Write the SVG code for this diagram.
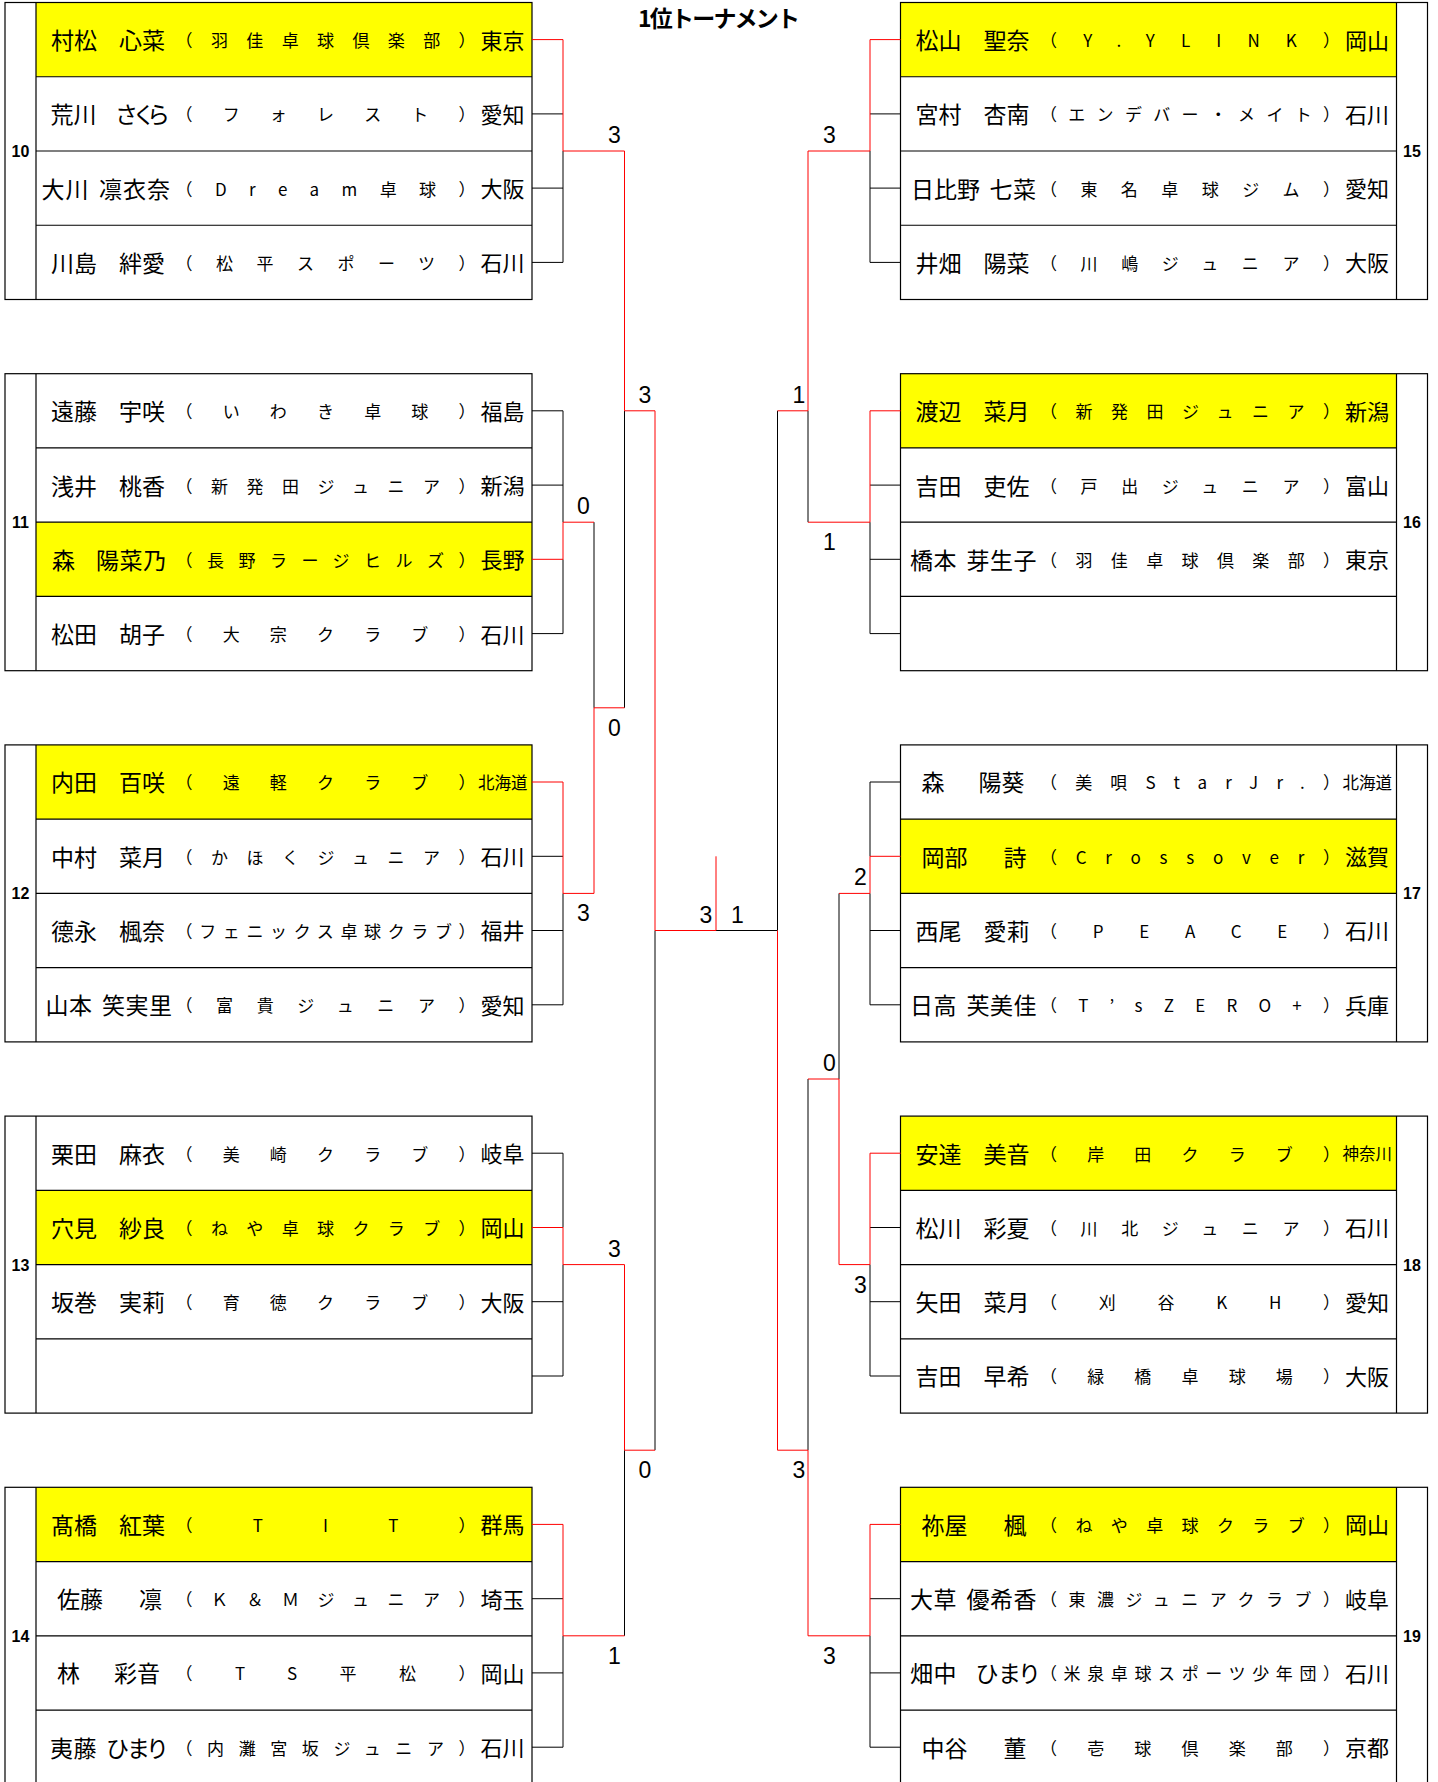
<svg xmlns="http://www.w3.org/2000/svg" width="1438" height="1782" viewBox="0 0 1438 1782">
<style>
text{font-family:"Noto Sans CJK JP","Noto Sans CJK SC",sans-serif;fill:#000}
.bx{fill:none;stroke:#000;stroke-width:1.2}
.yl{fill:#ffff00;stroke:none}
.nm{font-size:23px}
.cl{font-size:17px}
.pf{font-size:22px;text-anchor:end}
.pf3{font-size:16.5px;text-anchor:end}
.num{font-family:"Liberation Sans",Arial,sans-serif;font-weight:bold;font-size:16px;text-anchor:middle}
.sc{font-family:"Liberation Sans",Arial,sans-serif;font-size:23px;text-anchor:middle}
.r{fill:none;stroke:#ff0000;stroke-width:1}
.k{fill:none;stroke:#000;stroke-width:1}
.ttl{font-size:23px;font-weight:bold}
</style>
<rect width="1438" height="1782" fill="#fff"/>
<text id="title" class="ttl" x="638" y="26.5" textLength="162">1位トーナメント</text>

<!-- LEFT BLOCKS -->
<g id="block-10" transform="translate(36,2.5)">
<rect class="yl" x="0" y="0" width="496" height="74.25"/>
<rect class="bx" x="-31" y="0" width="527" height="297"/>
<path class="bx" d="M0 0V297M0 74.25H496M0 148.5H496M0 222.75H496"/>
<text class="num" x="-15.5" y="154.5">10</text>
<g id="p10-1"><text class="nm" x="15 38 61 83 106" y="46.6">村松　心菜</text><text class="cl" x="139.5" y="44.6" textLength="300">（羽佳卓球倶楽部）</text><text class="pf" x="488.5" y="46.1">東京</text></g>
<g id="p10-2"><text class="nm" x="14.5 37.5 60.5 79 96.5 111" y="120.9">荒川　さくら</text><text class="cl" x="139.5" y="118.9" textLength="300">（フォレスト）</text><text class="pf" x="488.5" y="120.4">愛知</text></g>
<g id="p10-3"><text class="nm" x="5.5 29.5 53 63 87 111" y="195.1">大川 凛衣奈</text><text class="cl" x="139.5" y="193.1" textLength="300">（Dream卓球）</text><text class="pf" x="488.5" y="194.6">大阪</text></g>
<g id="p10-4"><text class="nm" x="15 38 61 83 106" y="269.4">川島　絆愛</text><text class="cl" x="139.5" y="267.4" textLength="300">（松平スポーツ）</text><text class="pf" x="488.5" y="268.9">石川</text></g>
</g>

<g id="block-11" transform="translate(36,373.7)">
<rect class="yl" x="0" y="148.5" width="496" height="74.25"/>
<rect class="bx" x="-31" y="0" width="527" height="297"/>
<path class="bx" d="M0 0V297M0 74.25H496M0 148.5H496M0 222.75H496"/>
<text class="num" x="-15.5" y="154.5">11</text>
<g id="p11-1"><text class="nm" x="15 38 61 83 106" y="46.6">遠藤　宇咲</text><text class="cl" x="139.5" y="44.6" textLength="300">（いわき卓球）</text><text class="pf" x="488.5" y="46.1">福島</text></g>
<g id="p11-2"><text class="nm" x="15 38 61 83 106" y="120.9">浅井　桃香</text><text class="cl" x="139.5" y="118.9" textLength="300">（新発田ジュニア）</text><text class="pf" x="488.5" y="120.4">新潟</text></g>
<g id="p11-3"><text class="nm" x="16 38 60 83.5 107" y="195.1">森　陽菜乃</text><text class="cl" x="139.5" y="193.1" textLength="300">（長野ラージヒルズ）</text><text class="pf" x="488.5" y="194.6">長野</text></g>
<g id="p11-4"><text class="nm" x="15 38 61 83 106" y="269.4">松田　胡子</text><text class="cl" x="139.5" y="267.4" textLength="300">（大宗クラブ）</text><text class="pf" x="488.5" y="268.9">石川</text></g>
</g>

<g id="block-12" transform="translate(36,744.9)">
<rect class="yl" x="0" y="0" width="496" height="74.25"/>
<rect class="bx" x="-31" y="0" width="527" height="297"/>
<path class="bx" d="M0 0V297M0 74.25H496M0 148.5H496M0 222.75H496"/>
<text class="num" x="-15.5" y="154.5">12</text>
<g id="p12-1"><text class="nm" x="15 38 61 83 106" y="46.6">内田　百咲</text><text class="cl" x="139.5" y="44.6" textLength="300">（遠軽クラブ）</text><text class="pf3" x="491.5" y="44">北海道</text></g>
<g id="p12-2"><text class="nm" x="15 38 61 83 106" y="120.9">中村　菜月</text><text class="cl" x="139.5" y="118.9" textLength="300">（かほくジュニア）</text><text class="pf" x="488.5" y="120.4">石川</text></g>
<g id="p12-3"><text class="nm" x="15 38 61 83 106" y="195.1">德永　楓奈</text><text class="cl" x="139.5" y="193.1" textLength="300">（フェニックス卓球クラブ）</text><text class="pf" x="488.5" y="194.6">福井</text></g>
<g id="p12-4"><text class="nm" x="9.5 33 56.5 66 89.5 113" y="269.4">山本 笑実里</text><text class="cl" x="139.5" y="267.4" textLength="300">（富貴ジュニア）</text><text class="pf" x="488.5" y="268.9">愛知</text></g>
</g>

<g id="block-13" transform="translate(36,1116.1)">
<rect class="yl" x="0" y="74.25" width="496" height="74.25"/>
<rect class="bx" x="-31" y="0" width="527" height="297"/>
<path class="bx" d="M0 0V297M0 74.25H496M0 148.5H496M0 222.75H496"/>
<text class="num" x="-15.5" y="154.5">13</text>
<g id="p13-1"><text class="nm" x="15 38 61 83 106" y="46.6">栗田　麻衣</text><text class="cl" x="139.5" y="44.6" textLength="300">（美崎クラブ）</text><text class="pf" x="488.5" y="46.1">岐阜</text></g>
<g id="p13-2"><text class="nm" x="15 38 61 83 106" y="120.9">穴見　紗良</text><text class="cl" x="139.5" y="118.9" textLength="300">（ねや卓球クラブ）</text><text class="pf" x="488.5" y="120.4">岡山</text></g>
<g id="p13-3"><text class="nm" x="15 38 61 83 106" y="195.1">坂巻　実莉</text><text class="cl" x="139.5" y="193.1" textLength="300">（育徳クラブ）</text><text class="pf" x="488.5" y="194.6">大阪</text></g>
</g>

<g id="block-14" transform="translate(36,1487.3)">
<rect class="yl" x="0" y="0" width="496" height="74.25"/>
<rect class="bx" x="-31" y="0" width="527" height="297"/>
<path class="bx" d="M0 0V297M0 74.25H496M0 148.5H496M0 222.75H496"/>
<text class="num" x="-15.5" y="154.5">14</text>
<g id="p14-1"><text class="nm" x="15 38 61 83 106" y="46.6">髙橋　紅葉</text><text class="cl" x="139.5" y="44.6" textLength="300">（TIT）</text><text class="pf" x="488.5" y="46.1">群馬</text></g>
<g id="p14-2"><text class="nm" x="21 44 63 82 103" y="120.9">佐藤　　凛</text><text class="cl" x="139.5" y="118.9" textLength="300">（Ｋ＆Ｍジュニア）</text><text class="pf" x="488.5" y="120.4">埼玉</text></g>
<g id="p14-3"><text class="nm" x="21 40 59 78 101" y="195.1">林　　彩音</text><text class="cl" x="139.5" y="193.1" textLength="300">（TS平松）</text><text class="pf" x="488.5" y="194.6">岡山</text></g>
<g id="p14-4"><text class="nm" x="14 37.5 60 70 91 110" y="269.4">夷藤 ひまり</text><text class="cl" x="139.5" y="267.4" textLength="300">（内灘宮坂ジュニア）</text><text class="pf" x="488.5" y="268.9">石川</text></g>
</g>

<!-- RIGHT BLOCKS -->
<g id="block-15" transform="translate(900.5,2.5)">
<rect class="yl" x="0" y="0" width="496" height="74.25"/>
<rect class="bx" x="0" y="0" width="527" height="297"/>
<path class="bx" d="M496 0V297M0 74.25H496M0 148.5H496M0 222.75H496"/>
<text class="num" x="511.5" y="154.5">15</text>
<g id="p15-1"><text class="nm" x="15 38 61 83 106" y="46.6">松山　聖奈</text><text class="cl" x="139.5" y="44.6" textLength="300">（Y.YLINK）</text><text class="pf" x="488.5" y="46.1">岡山</text></g>
<g id="p15-2"><text class="nm" x="15 38 61 83 106" y="120.9">宮村　杏南</text><text class="cl" x="139.5" y="118.9" textLength="300">（エンデバー・メイト）</text><text class="pf" x="488.5" y="120.4">石川</text></g>
<g id="p15-3"><text class="nm" x="10.5 33.5 56.5 79.5 89 112.5" y="195.1">日比野 七菜</text><text class="cl" x="139.5" y="193.1" textLength="300">（東名卓球ジム）</text><text class="pf" x="488.5" y="194.6">愛知</text></g>
<g id="p15-4"><text class="nm" x="15 38 61 83 106" y="269.4">井畑　陽菜</text><text class="cl" x="139.5" y="267.4" textLength="300">（川嶋ジュニア）</text><text class="pf" x="488.5" y="268.9">大阪</text></g>
</g>

<g id="block-16" transform="translate(900.5,373.7)">
<rect class="yl" x="0" y="0" width="496" height="74.25"/>
<rect class="bx" x="0" y="0" width="527" height="297"/>
<path class="bx" d="M496 0V297M0 74.25H496M0 148.5H496M0 222.75H496"/>
<text class="num" x="511.5" y="154.5">16</text>
<g id="p16-1"><text class="nm" x="15 38 61 83 106" y="46.6">渡辺　菜月</text><text class="cl" x="139.5" y="44.6" textLength="300">（新発田ジュニア）</text><text class="pf" x="488.5" y="46.1">新潟</text></g>
<g id="p16-2"><text class="nm" x="15 38 61 83 106" y="120.9">吉田　吏佐</text><text class="cl" x="139.5" y="118.9" textLength="300">（戸出ジュニア）</text><text class="pf" x="488.5" y="120.4">富山</text></g>
<g id="p16-3"><text class="nm" x="9.5 33 56.5 66 89.5 113" y="195.1">橋本 芽生子</text><text class="cl" x="139.5" y="193.1" textLength="300">（羽佳卓球倶楽部）</text><text class="pf" x="488.5" y="194.6">東京</text></g>
</g>

<g id="block-17" transform="translate(900.5,744.9)">
<rect class="yl" x="0" y="74.25" width="496" height="74.25"/>
<rect class="bx" x="0" y="0" width="527" height="297"/>
<path class="bx" d="M496 0V297M0 74.25H496M0 148.5H496M0 222.75H496"/>
<text class="num" x="511.5" y="154.5">17</text>
<g id="p17-1"><text class="nm" x="21 40 59 78 101" y="46.6">森　　陽葵</text><text class="cl" x="139.5" y="44.6" textLength="300">（美唄StarJr.）</text><text class="pf3" x="491.5" y="44">北海道</text></g>
<g id="p17-2"><text class="nm" x="21 44 63 82 103" y="120.9">岡部　　詩</text><text class="cl" x="139.5" y="118.9" textLength="300">（Crossover）</text><text class="pf" x="488.5" y="120.4">滋賀</text></g>
<g id="p17-3"><text class="nm" x="15 38 61 83 106" y="195.1">西尾　愛莉</text><text class="cl" x="139.5" y="193.1" textLength="300">（PEACE）</text><text class="pf" x="488.5" y="194.6">石川</text></g>
<g id="p17-4"><text class="nm" x="9.5 33 56.5 66 89.5 113" y="269.4">日高 芙美佳</text><text class="cl" x="139.5" y="267.4" textLength="300">（T’sZERO+）</text><text class="pf" x="488.5" y="268.9">兵庫</text></g>
</g>

<g id="block-18" transform="translate(900.5,1116.1)">
<rect class="yl" x="0" y="0" width="496" height="74.25"/>
<rect class="bx" x="0" y="0" width="527" height="297"/>
<path class="bx" d="M496 0V297M0 74.25H496M0 148.5H496M0 222.75H496"/>
<text class="num" x="511.5" y="154.5">18</text>
<g id="p18-1"><text class="nm" x="15 38 61 83 106" y="46.6">安達　美音</text><text class="cl" x="139.5" y="44.6" textLength="300">（岸田クラブ）</text><text class="pf3" x="491.5" y="44">神奈川</text></g>
<g id="p18-2"><text class="nm" x="15 38 61 83 106" y="120.9">松川　彩夏</text><text class="cl" x="139.5" y="118.9" textLength="300">（川北ジュニア）</text><text class="pf" x="488.5" y="120.4">石川</text></g>
<g id="p18-3"><text class="nm" x="15 38 61 83 106" y="195.1">矢田　菜月</text><text class="cl" x="139.5" y="193.1" textLength="300">（刈谷KH）</text><text class="pf" x="488.5" y="194.6">愛知</text></g>
<g id="p18-4"><text class="nm" x="15 38 61 83 106" y="269.4">吉田　早希</text><text class="cl" x="139.5" y="267.4" textLength="300">（緑橋卓球場）</text><text class="pf" x="488.5" y="268.9">大阪</text></g>
</g>

<g id="block-19" transform="translate(900.5,1487.3)">
<rect class="yl" x="0" y="0" width="496" height="74.25"/>
<rect class="bx" x="0" y="0" width="527" height="297"/>
<path class="bx" d="M496 0V297M0 74.25H496M0 148.5H496M0 222.75H496"/>
<text class="num" x="511.5" y="154.5">19</text>
<g id="p19-1"><text class="nm" x="21 44 63 82 103" y="46.6">祢屋　　楓</text><text class="cl" x="139.5" y="44.6" textLength="300">（ねや卓球クラブ）</text><text class="pf" x="488.5" y="46.1">岡山</text></g>
<g id="p19-2"><text class="nm" x="9.5 33 56.5 66 89.5 113" y="120.9">大草 優希香</text><text class="cl" x="139.5" y="118.9" textLength="300">（東濃ジュニアクラブ）</text><text class="pf" x="488.5" y="120.4">岐阜</text></g>
<g id="p19-3"><text class="nm" x="9.5 33 55 75 97.5 117.5" y="195.1">畑中　ひまり</text><text class="cl" x="139.5" y="193.1" textLength="300">（米泉卓球スポーツ少年団）</text><text class="pf" x="488.5" y="194.6">石川</text></g>
<g id="p19-4"><text class="nm" x="21 44 63 82 103" y="269.4">中谷　　董</text><text class="cl" x="139.5" y="267.4" textLength="300">（壱球倶楽部）</text><text class="pf" x="488.5" y="268.9">京都</text></g>
</g>

<!-- CONNECTORS -->
<g id="connectors">
<path class="k" d="M532 113.9H563M532 188.1H563M532 262.4H563V151
M532 410.8H563V522.2M532 485.1H563M532 633.6H563V559.3
M532 856.3H563M532 930.5H563M532 1004.8H563V893.4
M532 1153.2H563V1227.5M532 1301.7H563M532 1376H563V1264.6
M532 1598.7H563M532 1672.9H563M532 1747.2H563V1635.8
M594 522.2V707.8M624.5 410.8V707.8M624.5 1450.2V1635.8M655 930.5V1450.2
M900.5 113.9H870M900.5 188.1H870M900.5 262.4H870V151
M900.5 485.1H870M900.5 559.3H870M900.5 633.6H870V522.2
M900.5 782H870V856.3M900.5 930.5H870M900.5 1004.8H870V893.4
M900.5 1227.5H870M900.5 1301.7H870M900.5 1376H870V1264.6
M900.5 1598.7H870M900.5 1672.9H870M900.5 1747.2H870V1635.8
M839 893.4V1079M808 410.8V522.2M808 1079V1450.2M777.5 410.8V930.5
M716 930.5H777.5"/>
<path class="r" d="M532 39.6H563V151H624.5
M532 559.3H563V522.2H594
M532 782H563V893.4H594
M532 1227.5H563V1264.6H624.5
M532 1524.4H563V1635.8H624.5
M594 893.4V707.8H624.5
M624.5 151V410.8H655
M624.5 1264.6V1450.2H655
M655 410.8V930.5H716
M716 856.3V930.5
M900.5 39.6H870V151H808
M900.5 410.8H870V522.2H808
M900.5 856.3H870V893.4H839
M900.5 1153.2H870V1264.6H839
M900.5 1524.4H870V1635.8H808
M839 1264.6V1079H808
M808 151V410.8H777.5
M808 1635.8V1450.2H777.5
M777.5 1450.2V930.5"/>
</g>

<g id="scores">
<text class="sc" x="614.5" y="143">3</text>
<text class="sc" x="645" y="402.8">3</text>
<text class="sc" x="583.5" y="514.2">0</text>
<text class="sc" x="614.5" y="735.8">0</text>
<text class="sc" x="583.5" y="921.4">3</text>
<text class="sc" x="706" y="922.5">3</text>
<text class="sc" x="614.5" y="1256.6">3</text>
<text class="sc" x="645" y="1478.2">0</text>
<text class="sc" x="614.5" y="1663.8">1</text>
<text class="sc" x="737.5" y="922.5">1</text>
<text class="sc" x="829.5" y="143">3</text>
<text class="sc" x="799" y="402.8">1</text>
<text class="sc" x="829.5" y="550.2">1</text>
<text class="sc" x="860.5" y="885.4">2</text>
<text class="sc" x="829.5" y="1071">0</text>
<text class="sc" x="860.5" y="1292.6">3</text>
<text class="sc" x="799" y="1478.2">3</text>
<text class="sc" x="829.5" y="1663.8">3</text>
</g>
</svg>
